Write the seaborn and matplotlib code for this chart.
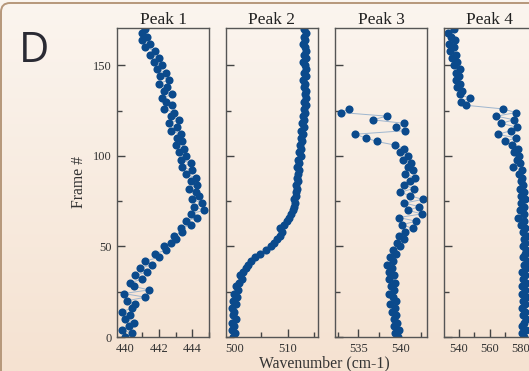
import numpy as np
import pandas as pd
import matplotlib.pyplot as plt
import seaborn as sns
from matplotlib.patches import FancyBboxPatch
from matplotlib.transforms import IdentityTransform
from matplotlib.colors import LinearSegmentedColormap

# frame index (every second frame)
frames = np.arange(0, 171, 2)

peak1 = [440.0, 440.4, 439.8, 440.2, 440.5, 440.0, 440.3, 439.8, 440.4, 440.6,
         440.1, 441.2, 439.9, 441.4, 440.5, 440.3, 441.0, 440.6, 441.3, 440.9,
         441.6, 441.2, 442.0, 441.8, 442.4, 442.3, 442.7, 443.0, 442.9, 443.4,
         443.3, 443.9, 443.6, 444.3, 443.9, 444.7, 444.1, 444.6, 444.0, 444.4,
         444.2, 443.8, 444.3, 443.9, 444.2, 443.6, 444.0, 443.4, 443.9, 443.3,
         443.6, 443.2, 443.5, 443.0, 443.4, 443.1, 443.3, 442.7, 443.1, 442.6,
         443.2, 442.7, 442.9, 442.3, 442.8, 442.4, 442.2, 442.8, 442.3, 442.5,
         442.0, 442.6, 442.1, 442.4, 441.9, 442.2, 441.7, 442.0, 441.5, 441.8,
         441.2, 441.5, 441.0, 441.3, 441.0, 441.2]

peak2 = [499.6, 500.0, 499.4, 499.9, 499.5, 500.1, 499.6, 499.9, 499.5, 500.2,
         499.7, 500.3, 499.9, 500.5, 500.2, 500.8, 501.3, 501.0, 501.6, 502.0,
         502.4, 503.1, 503.8, 504.7, 505.8, 506.8, 507.3, 507.9, 508.5, 508.9,
         508.6, 509.3, 509.8, 510.2, 510.5, 510.9, 511.1, 511.4, 511.2, 511.6,
         511.5, 511.8, 511.6, 512.0, 511.7, 511.9, 512.1, 511.8, 512.2, 512.0,
         512.4, 512.1, 512.5, 512.3, 512.6, 512.4, 512.8, 512.5, 513.0, 512.7,
         513.1, 512.8, 513.2, 513.0, 513.4, 513.1, 513.5, 513.2, 513.4, 513.0,
         513.3, 512.9, 513.4, 513.1, 513.5, 513.2, 512.9, 513.4, 513.1, 513.5,
         513.2, 512.9, 513.3, 513.0, 513.4, 513.1]

peak3 = [539.7, 539.4, 539.8, 539.3, 539.6, 539.2, 539.5, 539.0, 539.4, 538.8,
         539.5, 539.1, 538.7, 539.3, 538.9, 539.4, 538.7, 539.2, 538.6, 539.0,
         538.4, 539.1, 538.8, 539.5, 539.1, 540.0, 539.6, 540.4, 539.9, 540.6,
         541.5, 540.2, 541.9, 539.8, 542.6, 540.9, 542.3, 540.5, 542.7, 541.2,
         540.0, 541.6, 540.4, 541.2, 541.8, 540.6, 541.5, 540.9, 541.3, 540.3,
         540.9, 540.0, 540.5, 539.4, 537.2, 535.9, 534.6, 540.6, 539.5, 540.5,
         536.7, 538.4, 532.9, 533.9]

peak4 = [582.5, 581.0, 583.5, 580.8, 582.2, 583.8, 581.4, 582.6, 580.6, 583.0,
         581.8, 584.2, 581.0, 582.8, 580.9, 583.3, 581.6, 582.9, 581.2, 583.6,
         582.0, 584.0, 581.3, 582.7, 583.8, 581.5, 583.1, 582.2, 584.3, 581.7,
         583.0, 580.2, 582.4, 578.3, 581.9, 579.6, 582.5, 580.4, 582.8, 580.0,
         582.1, 579.5, 581.8, 580.2, 581.2, 579.0, 580.6, 575.2, 579.8, 577.4,
         579.2, 576.0, 578.6, 574.5, 569.6, 576.8, 565.2, 574.0, 577.5, 567.2,
         575.6, 564.3, 577.0, 568.4, 544.6, 541.2, 546.8, 540.3, 542.0, 538.6,
         540.5, 537.8, 539.9, 538.2, 540.6, 536.9, 538.8, 535.6, 537.9, 534.2,
         536.8, 533.5, 537.2, 534.6, 533.0, 536.4]

titles = ["Peak 1", "Peak 2", "Peak 3", "Peak 4"]
xlims = [(439.5, 445.0), (498.3, 515.7), (532.2, 543.2), (530.2, 590.0)]
major_ticks = [[440, 442, 444], [500, 510], [535, 540], [540, 560, 580]]
minor_ticks = [[441, 443, 445], [505, 515], [532.5, 537.5, 542.5], [550, 570]]

W, H = 529, 371
marker_color = "#0b4a8c"
line_color = "#9fb6cf"

sns.set_theme(style="ticks")
plt.rcParams["font.family"] = ["Liberation Serif", "DejaVu Serif"]

fig = plt.figure(figsize=(W / 100, H / 100), dpi=100)

# warm gradient background
bg = fig.add_axes([0, 0, 1, 1], zorder=-10)
cmap = LinearSegmentedColormap.from_list("warm", ["#fbf5ef", "#f5e2d1"])
bg.imshow(np.linspace(0, 1, 256).reshape(-1, 1), cmap=cmap, aspect="auto",
          extent=[0, 1, 0, 1], origin="upper")
bg.set_axis_off()

# rounded frame along the top/left
frame_box = FancyBboxPatch((1, -40), 700, 408, boxstyle="round,pad=0,rounding_size=9",
                           transform=IdentityTransform(), facecolor="none",
                           edgecolor="#b6977a", lw=1.4)
fig.add_artist(frame_box)

lefts = [117, 226, 335, 444]
top, bottom, width = 28, 337, 92

for i, vals in enumerate([peak1, peak2, peak3, peak4]):
    ax = fig.add_axes([lefts[i] / W, 1 - bottom / H, width / W, (bottom - top) / H])
    ax.set_facecolor("none")
    df = pd.DataFrame({"wavenumber": vals, "frame": frames[:len(vals)]})
    # thin connecting line under the markers
    sns.lineplot(data=df, x="wavenumber", y="frame", ax=ax, sort=False, estimator=None,
                 color=line_color, lw=0.7, zorder=1)
    sns.scatterplot(data=df, x="wavenumber", y="frame", ax=ax, color=marker_color,
                    s=34, linewidth=0, zorder=2)
    ax.set_xlim(*xlims[i])
    ax.set_ylim(0, 170.7)
    ax.set_xticks(major_ticks[i])
    ax.set_xticks(minor_ticks[i], minor=True)
    ax.set_yticks([0, 50, 100, 150])
    ax.set_yticks([25, 75, 125], minor=True)
    ax.tick_params(which="both", direction="in", top=False, right=False,
                   color="#444444", labelcolor="#333333", labelsize=9, pad=4)
    ax.tick_params(which="major", length=6, width=1.0)
    ax.tick_params(which="minor", length=3.5, width=1.0)
    for sp in ax.spines.values():
        sp.set_color("#555555")
        sp.set_linewidth(1.0)
    ax.set_xlabel("")
    if i == 0:
        ax.set_ylabel("Frame #", fontsize=11.3, color="#333333", labelpad=4)
    else:
        ax.set_ylabel("")
        ax.set_yticklabels([])
    ax.set_title(titles[i], fontsize=12.5, color="#222222", pad=3)

fig.text(324.5 / W, 4 / H, "Wavenumber (cm-1)", ha="center", va="baseline",
         fontsize=11.3, color="#333333")
fig.text(19 / W, (H - 62) / H, "D", ha="left", va="baseline", fontsize=30,
         color="#2a2a33", family=["Open Sans", "DejaVu Sans"])

fig.savefig("out.png", dpi=100)
